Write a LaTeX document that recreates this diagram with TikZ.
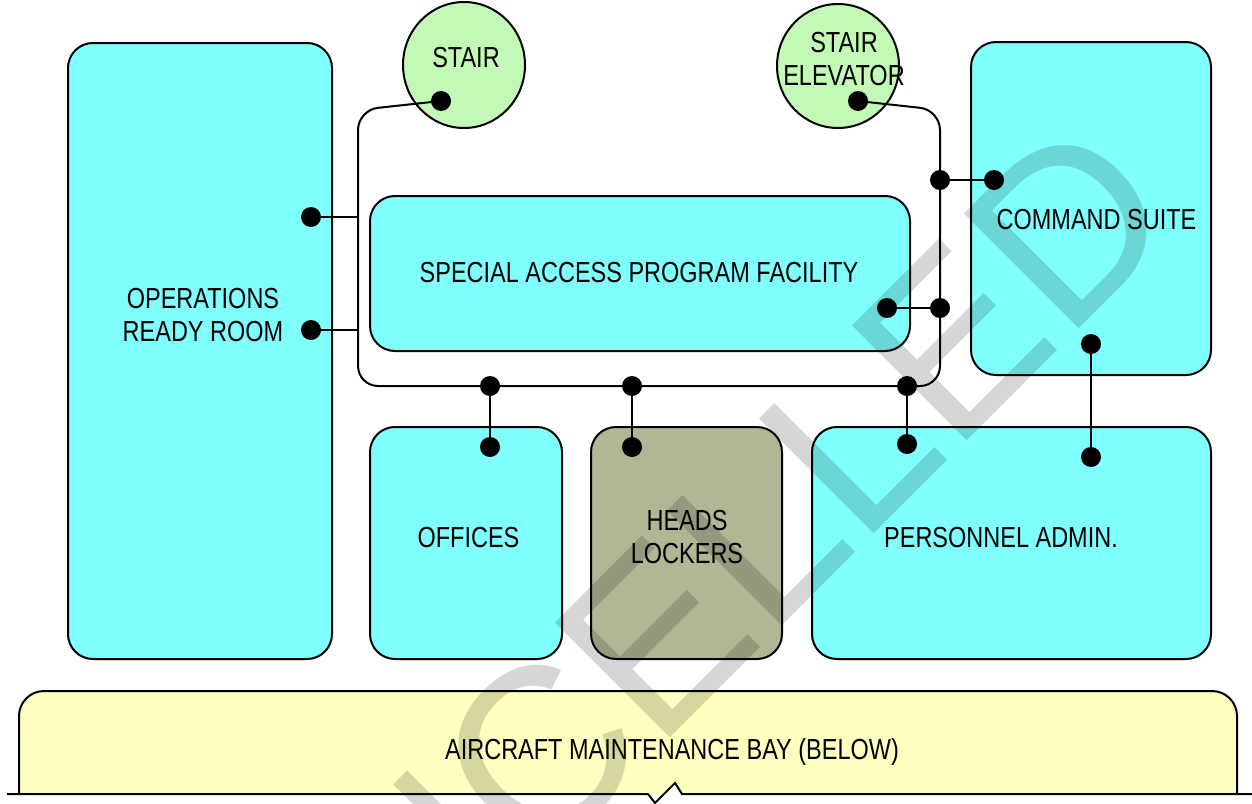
\documentclass[tikz,border=0pt]{standalone}
\usepackage{fontspec}
\setmainfont{Liberation Sans}[FakeStretch=0.81]
\newfontfamily\wmfont{Liberation Sans}
\usetikzlibrary{shapes.geometric}
\definecolor{roomcyan}{HTML}{80FFFF}
\definecolor{stairgreen}{HTML}{C2F9B6}
\definecolor{headsolive}{HTML}{AFB794}
\definecolor{bayyellow}{HTML}{FFFFC0}
\begin{document}
\begin{tikzpicture}[x=1pt,y=-1pt,
  room/.style={rectangle, draw=black, line width=2pt, fill=roomcyan, rounded corners=25pt, inner sep=0pt},
  stairc/.style={ellipse, draw=black, line width=2pt, fill=stairgreen, inner sep=0pt},
  dot/.style={circle, fill=black, inner sep=0pt, minimum size=20pt},
  wire/.style={line width=2pt, draw=black},
  lbl/.style={font=\fontsize{29}{33}\selectfont, align=center, inner sep=0pt, text=black}]
\useasboundingbox (0,0) rectangle (1252,803);
\clip (0,0) rectangle (1252,803);
\fill[white] (0,0) rectangle (1252,803);

% rooms
\node[room, minimum width=264pt, minimum height=616pt] (ops) at (200,351) {};
\node[room, minimum width=540pt, minimum height=155pt] (sapf) at (640,273.5) {};
\node[room, minimum width=240pt, minimum height=333pt] (cmd) at (1091,208.5) {};
\node[room, minimum width=192pt, minimum height=232pt] (off) at (466,543) {};
\node[room, fill=headsolive, minimum width=191pt, minimum height=232pt] (heads) at (686.5,543) {};
\node[room, minimum width=399pt, minimum height=232pt] (pers) at (1011.5,543) {};

% stairs
\node[stairc, minimum width=122pt, minimum height=126pt] (stair) at (464,65) {};
\node[stairc, minimum width=122pt, minimum height=124pt] (elev) at (838,66) {};

% aircraft maintenance bay
\fill[bayyellow, rounded corners=25pt] (19,794) -- (19,691) -- (1237,691) -- (1237,794);
\fill[white] (664,794) -- (675,783) -- (682,794) -- cycle;
\draw[wire, rounded corners=25pt] (19,794) -- (19,691) -- (1237,691) -- (1237,794);
\draw[wire] (7,794) -- (648,794) -- (655,803) -- (675,783) -- (682,794) -- (1252,794);

% corridor corners and taps
\coordinate (c1) at (358,110);
\coordinate (c2) at (358,386);
\coordinate (c3) at (940,386);
\coordinate (c4) at (940,110);
\coordinate (t1) at (358,217);
\coordinate (t2) at (358,330);

% dots
\node[dot] (sd) at (441,101) {};
\node[dot] (ed) at (858,101) {};
\node[dot] (o1) at (311,217) {};
\node[dot] (o2) at (311,330) {};
\node[dot] (j1) at (940,180) {};
\node[dot] (cm1) at (994,180) {};
\node[dot] (j2) at (940,308) {};
\node[dot] (s1) at (887,308) {};
\node[dot] (j3) at (490,386) {};
\node[dot] (of1) at (490,447) {};
\node[dot] (j4) at (632,386) {};
\node[dot] (h1) at (632,447) {};
\node[dot] (j5) at (907,386) {};
\node[dot] (p1) at (907,444) {};
\node[dot] (cm2) at (1091,344) {};
\node[dot] (p2) at (1091,457) {};

% corridor loop
\draw[wire, rounded corners=20pt] (sd.center) -- (c1) -- (c2) -- (c3) -- (c4) -- (ed.center);

% connectors
\draw[wire] (o1.center) -- (t1);
\draw[wire] (o2.center) -- (t2);
\draw[wire] (j1.center) -- (cm1.center);
\draw[wire] (j2.center) -- (s1.center);
\draw[wire] (j3.center) -- (of1.center);
\draw[wire] (j4.center) -- (h1.center);
\draw[wire] (j5.center) -- (p1.center);
\draw[wire] (cm2.center) -- (p2.center);

% labels
\node[lbl] (stairT) at (466,58) {STAIR};
\node[lbl] (elevT) at (844,59) {STAIR\\ELEVATOR};
\node[lbl] (opsT) at (203,315.5) {OPERATIONS\\READY ROOM};
\node[lbl] (sapfT) at (639,272.5) {SPECIAL ACCESS PROGRAM FACILITY};
\node[lbl] (cmdT) at (1096.5,219.5) {COMMAND SUITE};
\node[lbl] (offT) at (468.5,537.5) {OFFICES};
\node[lbl] (headsT) at (687,537) {HEADS\\LOCKERS};
\node[lbl] (persT) at (1001,537.5) {PERSONNEL ADMIN.};
\node[lbl, anchor=base] (bayT) at (672,759) {AIRCRAFT MAINTENANCE BAY (BELOW)};

% watermark
\node[font=\wmfont\fontsize{236}{236}\selectfont, rotate=45, anchor=base west, inner sep=0pt, text=black, text opacity=0.16] (wm) at (184,1224) {CANCELLED};
\end{tikzpicture}
\end{document}
